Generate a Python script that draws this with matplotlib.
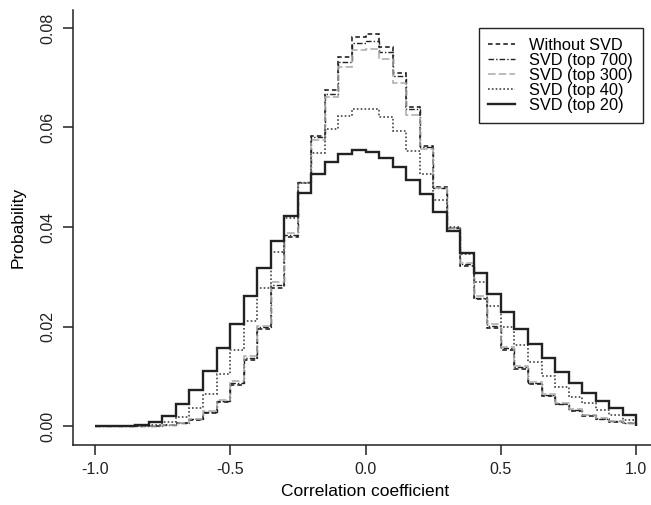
import numpy as np
import matplotlib.pyplot as plt

plt.rcParams['font.family'] = ['Liberation Sans', 'DejaVu Sans']

# bin edges: 40 bins of width 0.05 from -1 to 1
edges = np.linspace(-1.0, 1.0, 41)

without_svd = [0, 0, 0, 0, 0, 0.0002, 0.0006, 0.0013, 0.0027, 0.0048,
               0.0083, 0.0132, 0.0196, 0.0277, 0.0380, 0.0489, 0.0583, 0.0675, 0.0742, 0.0781,
               0.0788, 0.0762, 0.0710, 0.0642, 0.0563, 0.0481, 0.0397, 0.0322, 0.0255, 0.0198,
               0.0153, 0.0115, 0.0084, 0.0061, 0.0044, 0.0031, 0.0021, 0.0014, 0.0009, 0.0006]
svd_700 = [0, 0, 0, 0, 0, 0.0002, 0.0006, 0.0014, 0.0028, 0.0050,
           0.0086, 0.0136, 0.0199, 0.0283, 0.0384, 0.0490, 0.0580, 0.0668, 0.0732, 0.0770,
           0.0773, 0.0752, 0.0703, 0.0638, 0.0561, 0.0478, 0.0397, 0.0325, 0.0258, 0.0201,
           0.0156, 0.0118, 0.0086, 0.0063, 0.0045, 0.0032, 0.0022, 0.0015, 0.0010, 0.0006]
svd_300 = [0, 0, 0, 0, 0, 0.0003, 0.0007, 0.0015, 0.0030, 0.0053,
           0.0090, 0.0140, 0.0202, 0.0290, 0.0388, 0.0488, 0.0575, 0.0661, 0.0722, 0.0756,
           0.0757, 0.0738, 0.0690, 0.0626, 0.0556, 0.0478, 0.0398, 0.0328, 0.0262, 0.0205,
           0.0159, 0.0121, 0.0089, 0.0065, 0.0047, 0.0034, 0.0023, 0.0016, 0.0011, 0.0007]
svd_40 = [0, 0, 0, 0.0001, 0.0003, 0.0009, 0.0018, 0.0036, 0.0064, 0.0105,
          0.0153, 0.0212, 0.0278, 0.0349, 0.0418, 0.0488, 0.0549, 0.0596, 0.0623, 0.0637,
          0.0638, 0.0622, 0.0592, 0.0552, 0.0507, 0.0454, 0.0400, 0.0346, 0.0290, 0.0241,
          0.0200, 0.0163, 0.0129, 0.0101, 0.0078, 0.0059, 0.0046, 0.0032, 0.0022, 0.0012]
svd_20 = [0, 0, 0, 0.0003, 0.0008, 0.0020, 0.0044, 0.0072, 0.0110, 0.0157,
          0.0205, 0.0261, 0.0317, 0.0372, 0.0422, 0.0468, 0.0507, 0.0531, 0.0547, 0.0554,
          0.0550, 0.0539, 0.0521, 0.0494, 0.0467, 0.0430, 0.0391, 0.0347, 0.0307, 0.0265,
          0.0230, 0.0196, 0.0164, 0.0136, 0.0109, 0.0086, 0.0066, 0.0050, 0.0036, 0.0023]

labels = ['Without SVD', 'SVD (top 700)', 'SVD (top 300)', 'SVD (top 40)', 'SVD (top 20)']

fig = plt.figure(figsize=(6.51, 5.05), dpi=100)
ax = fig.add_axes([73 / 651, 60 / 505, 585 / 651, 435 / 505])

series = [without_svd, svd_700, svd_300, svd_40, svd_20]
styles = [
    dict(color='#111111', lw=1.1, ls=(0, (3, 2))),
    dict(color='#222222', lw=1.0, ls=(0, (4, 1.5, 1, 1.5))),
    dict(color='#aaaaaa', lw=1.1, ls=(0, (5, 2))),
    dict(color='#444444', lw=1.2, ls=(0, (1, 1.3))),
    dict(color='#222222', lw=1.7, ls='-'),
]
handles = []
for vals, st, lab in zip(series, styles, labels):
    ax.stairs(vals, edges, baseline=0, **st)
    h, = ax.plot([], [], label=lab, **st)
    handles.append(h)

ax.set_xlim(-1.08, 1.08)
ax.set_ylim(-0.0038, 0.0836)
ax.set_xticks([-1.0, -0.5, 0.0, 0.5, 1.0])
ax.set_xticklabels(['-1.0', '-0.5', '0.0', '0.5', '1.0'])
ax.set_yticks([0.0, 0.02, 0.04, 0.06, 0.08])
ax.set_yticklabels(['0.00', '0.02', '0.04', '0.06', '0.08'], rotation=90, va='center')
ax.tick_params(direction='out', length=7, width=1.1, labelsize=11.5, colors='#222222')
ax.tick_params(axis='x', pad=5)
ax.tick_params(axis='y', pad=6)
for s in ['top', 'right']:
    ax.spines[s].set_visible(False)
for s in ['left', 'bottom']:
    ax.spines[s].set_linewidth(1.1)
    ax.spines[s].set_color('#222222')

ax.set_xlabel('Correlation coefficient', fontsize=12.5, labelpad=5)
ax.set_ylabel('Probability', fontsize=12.5, labelpad=10)

leg = ax.legend(handles=handles, loc='upper right', bbox_to_anchor=(643 / 651, 1 - 28 / 505),
                bbox_transform=fig.transFigure, borderaxespad=0, fancybox=False,
                edgecolor='#222222', framealpha=1, handlelength=1.6, handletextpad=0.9,
                labelspacing=0.0, borderpad=0.6, prop={'size': 11.8})
leg.get_frame().set_linewidth(1.0)

fig.savefig('out.png', dpi=100)
